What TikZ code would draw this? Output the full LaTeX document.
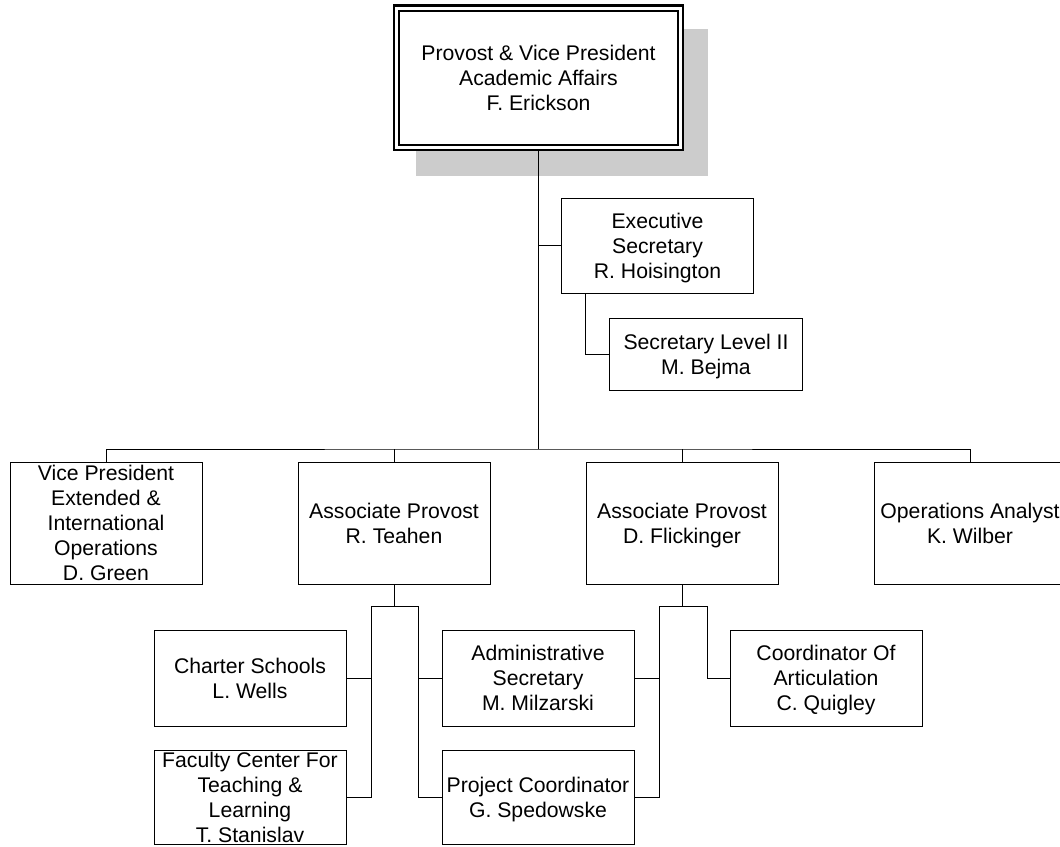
\documentclass[tikz,border=0pt]{standalone}
\usepackage{fontspec}
\setmainfont{Liberation Sans}
\usetikzlibrary{backgrounds}
\definecolor{shadowgray}{RGB}{204,204,204}
\newcommand{\orgfont}{\fontsize{21.2pt}{25pt}\selectfont}

\begin{document}
\begin{tikzpicture}[x=1pt,y=-1pt,line width=2.2pt,
        office/.style={draw,fill=white,minimum width=192pt,inner sep=0pt,outer sep=0pt,align=center,text depth=0pt,font=\orgfont}]
        \useasboundingbox (0,0) rectangle (1060,846);

        \node[office,double,double distance=3pt,minimum width=283.8pt,minimum height=139.3pt,outer sep=3.7pt] (provost) at (538.5,77.75) {Provost \& Vice President\\Academic Affairs\\F. Erickson};
        \begin{pgfonlayer}{background}
            \fill[shadowgray] ([shift={(23.5,24.5)}]provost.north west) rectangle ([shift={(23.5,24.5)}]provost.south east);
        \end{pgfonlayer}

        \node[office,minimum height=95pt] (exec) at (657.5,245.5) {Executive\\Secretary\\R. Hoisington};
        \node[office,minimum width=193pt,minimum height=72pt] (secII) at (706,354) {Secretary Level II\\M. Bejma};

        \node[office,minimum height=122pt] (vp) at (106,523) {Vice President\\Extended \&\\International\\Operations\\D. Green};
        \node[office,minimum height=122pt] (teahen) at (394,523) {Associate Provost\\R. Teahen};
        \node[office,minimum height=122pt] (flick) at (682,523) {Associate Provost\\D. Flickinger};
        \node[office,minimum height=122pt] (ops) at (970,523) {Operations Analyst\\K. Wilber};

        \node[office,minimum height=96pt] (charter) at (250,678) {Charter Schools\\L. Wells};
        \node[office,minimum height=96pt] (admin) at (538,678) {Administrative\\Secretary\\M. Milzarski};
        \node[office,minimum height=96pt] (artic) at (826,678) {Coordinator Of\\Articulation\\C. Quigley};
        \node[office,minimum height=94pt] (faculty) at (250,797) {Faculty Center For\\Teaching \&\\Learning\\T. Stanislav};
        \node[office,minimum height=94pt] (project) at (538,797) {Project Coordinator\\G. Spedowske};

        \coordinate (bus) at (538.5,449);
        \draw (provost.south) -- (bus);
        \draw (vp.north) |- (bus) -| (ops.north);
        \foreach \n in {teahen,flick}{% drops
            \draw (\n.north) -- (\n.north |- bus);
        }
        \draw (exec.west) -- (exec.west -| bus);
        \draw ([xshift=24pt]exec.south west) |- (secII.west);

        \coordinate (tl) at (371,606);
        \coordinate (tr) at (418,606);
        \draw (teahen.south) -- (teahen.south |- tl);
        \draw (faculty.east) -| (tl) -- (tr) |- (project.west);
        \draw (charter.east) -- (charter.east -| tl);
        \draw (admin.west) -- (admin.west -| tr);

        \coordinate (fl) at (659,606);
        \coordinate (fr) at (707,606);
        \draw (flick.south) -- (flick.south |- fl);
        \draw (project.east) -| (fl) -- (fr) |- (artic.west);
        \draw (admin.east) -- (admin.east -| fl);
    \end{tikzpicture}
\end{document}
